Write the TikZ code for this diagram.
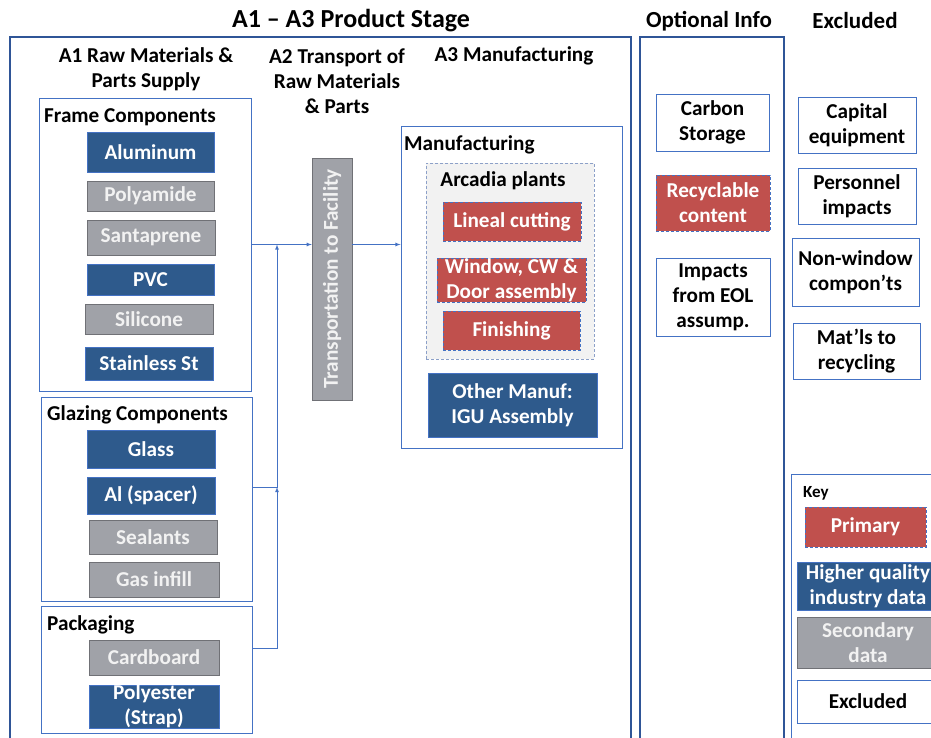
\documentclass[tikz,border=0pt]{standalone}
\usepackage{fontspec}
\setmainfont{Carlito}
\usepackage{xcolor}
\usepackage{graphicx}
\usepackage{tikz}

\definecolor{hqblue}{RGB}{46,90,140}
\definecolor{secgray}{RGB}{160,162,168}
\definecolor{primred}{RGB}{192,80,77}
\definecolor{boxline}{RGB}{68,114,196}
\definecolor{stageline}{RGB}{47,85,151}
\definecolor{plantfill}{RGB}{242,242,242}

\begin{document}
\begin{tikzpicture}[x=1pt,y=-1pt,font=\fontsize{21.2}{24.8}\selectfont\bfseries]
			\tikzstyle{hq} = [fill=hqblue, draw=boxline, text=white, align=center, inner sep=0pt]
			\tikzstyle{sec} = [fill=secgray, draw=secgray!70!black, text=white!95!black, align=center, inner sep=0pt]
			\tikzstyle{prim} = [fill=primred, draw=boxline, dash pattern=on 3pt off 2pt, text=white, align=center, inner sep=0pt]
			\tikzstyle{excl} = [fill=white, draw=boxline, align=center, inner sep=0pt]
			\tikzstyle{groupbox} = [draw=boxline, line width=0.9pt, inner sep=0pt]
			\tikzstyle{stagebox} = [draw=stageline, line width=1.6pt, inner sep=0pt]
			\tikzstyle{heading} = [align=center, inner sep=0pt]
			\tikzstyle{grouptitle} = [anchor=west, inner sep=0pt]
			\tikzset{edge/.style = {draw=boxline, line width=0.8pt, -latex}}
			
			\useasboundingbox (0,0) rectangle (931,738);
			
			\node[heading, font=\fontsize{26}{30}\selectfont\bfseries](title) at (351,21) {A1 -- A3 Product Stage};
			\node[heading, font=\fontsize{23}{28}\selectfont\bfseries](optinfo) at (709,21) {Optional Info};
			\node[heading, font=\fontsize{23}{28}\selectfont\bfseries](excluded) at (855,21) {Excluded};
			
			\node[stagebox, minimum width=621, minimum height=723](stage) at (320.5,398.5) {};
			\node[stagebox, minimum width=144, minimum height=723](optional) at (712,398.5) {};
			
			\node[heading](a1) at (146,69) {A1 Raw Materials \&\\Parts Supply};
			\node[heading](a2) at (337,81.5) {A2 Transport of\\Raw Materials\\\& Parts};
			\node[heading](a3) at (514,56) {A3 Manufacturing};
			
			% frame components
			\node[groupbox, minimum width=212, minimum height=293](frame) at (145,244.5) {};
			\node[grouptitle](frametitle) at (44,117) {Frame Components};
			\node[hq, minimum width=127, minimum height=40](aluminum) at (150.5,152) {Aluminum};
			\node[sec, minimum width=127, minimum height=30](polyamide) at (150.5,196) {Polyamide};
			\node[sec, minimum width=128, minimum height=35](santaprene) at (151,237.5) {Santaprene};
			\node[hq, minimum width=127, minimum height=31](pvc) at (150.5,279.5) {PVC};
			\node[sec, minimum width=128, minimum height=30](silicone) at (149,319) {Silicone};
			\node[hq, minimum width=128, minimum height=33](stainless) at (149,363.5) {Stainless St};
			
			% glazing components
			\node[groupbox, minimum width=211, minimum height=204](glaze) at (146.5,499) {};
			\node[grouptitle](glazetitle) at (47,415) {Glazing Components};
			\node[hq, minimum width=128, minimum height=38](glass) at (151,449) {Glass};
			\node[hq, minimum width=128, minimum height=37](spacer) at (151,495.5) {Al (spacer)};
			\node[sec, minimum width=128, minimum height=34](sealants) at (153,537) {Sealants};
			\node[sec, minimum width=130, minimum height=35](gasinfill) at (154,579.5) {Gas infill};
			
			% packaging
			\node[groupbox, minimum width=211, minimum height=127](pack) at (146.5,669.5) {};
			\node[grouptitle](packtitle) at (47,625) {Packaging};
			\node[sec, minimum width=130, minimum height=35](cardboard) at (154,657.5) {Cardboard};
			\node[hq, minimum width=130, minimum height=43](polyester) at (154,706.5) {Polyester\\(Strap)};
			
			\node[sec, minimum width=40, minimum height=242](trans) at (332,279) {\rotatebox{90}{Transportation to Facility}};
			
			% manufacturing
			\node[groupbox, minimum width=221, minimum height=322](manuf) at (511.5,287) {};
			\node[grouptitle](manuftitle) at (404,145) {Manufacturing};
			\node[fill=plantfill, draw={rgb,255:red,140;green,160;blue,200}, dash pattern=on 3pt off 2pt, minimum width=168, minimum height=196](plants) at (510,261) {};
			\node[heading](plantstitle) at (503,181) {Arcadia plants};
			\node[prim, minimum width=138, minimum height=39](lineal) at (512,221.5) {Lineal cutting};
			\node[prim, minimum width=149, minimum height=44](assembly) at (511.5,280) {Window, CW \&\\Door assembly};
			\node[prim, minimum width=137, minimum height=39](finishing) at (511.5,330.5) {Finishing};
			\node[hq, minimum width=169, minimum height=64](igu) at (512.5,405) {Other Manuf:\\IGU Assembly};
			
			% optional info
			\node[excl, minimum width=113, minimum height=57](carbon) at (712.5,122.5) {Carbon\\Storage};
			\node[prim, minimum width=114, minimum height=56](recyclable) at (713,203) {Recyclable\\content};
			\node[excl, minimum width=114, minimum height=78](eol) at (713,297) {Impacts\\from EOL\\assump.};
			
			% excluded
			\node[excl, minimum width=118, minimum height=56](capital) at (857,125) {Capital\\equipment};
			\node[excl, minimum width=118, minimum height=56](personnel) at (857,196) {Personnel\\impacts};
			\node[excl, minimum width=127, minimum height=68](nonwindow) at (855.5,272) {Non-window\\compon’ts};
			\node[excl, minimum width=127, minimum height=56](recycling) at (856.5,351) {Mat’ls to\\recycling};
			
			% key
			\node[groupbox, minimum width=169, minimum height=286](key) at (875.5,617) {};
			\node[grouptitle, font=\fontsize{17}{20}\selectfont\bfseries](keytitle) at (803,493) {Key};
			\node[prim, minimum width=121, minimum height=40](keyprim) at (865.5,527) {Primary};
			\node[hq, minimum width=142, minimum height=48](keyhq) at (868,586) {Higher quality\\industry data};
			\node[sec, minimum width=142, minimum height=51](keysec) at (868,642.5) {Secondary\\data};
			\node[excl, minimum width=142, minimum height=43](keyexcl) at (868,701.5) {Excluded};
			
			\coordinate (bus) at (277,0);
			\coordinate (gout) at ([yshift=12pt]glaze.east);
			\coordinate (pout) at ([yshift=21.5pt]pack.east);
			\draw[edge](pout) -| (bus |- gout);
			\draw[edge](gout) -| (bus |- frame);
			\draw[edge](frame) -- (trans.west |- frame);
			\draw[edge](trans.east |- frame) -- (manuf.west |- frame);
			
			\end{tikzpicture}
\end{document}
